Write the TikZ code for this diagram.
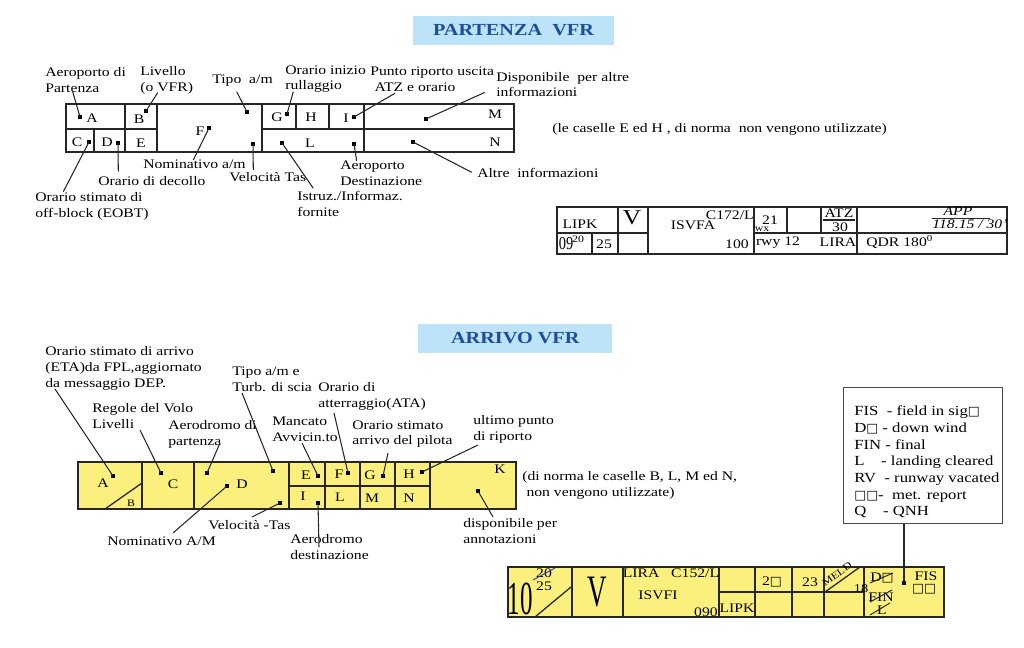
\documentclass[tikz,border=0pt]{standalone}
\usepackage{fontspec}
\usepackage{graphicx}
\setmainfont{Liberation Serif}[FakeStretch=1.2]
\newfontfamily\dejavu{DejaVu Sans}
\usetikzlibrary{positioning, calc}
\definecolor{stripyellow}{RGB}{251,240,125}
\definecolor{titleblue}{RGB}{188,227,248}
\definecolor{titleink}{RGB}{28,78,156}
\definecolor{strikeblue}{RGB}{60,70,170}
\newcommand{\lblfont}{\fontsize{9.3}{11.2}\selectfont}
\newcommand{\tinyfont}{\fontsize{7}{7}\selectfont}
\newcommand{\ttlfont}{\fontsize{12}{14}\selectfont\bfseries}
\newcommand{\sq}{{\dejavu\fontsize{9}{9}\selectfont □}}
\tikzset{
  titlebox/.style={fill=titleblue, text=titleink, font=\ttlfont, inner sep=0pt},
  % grid and strip lines
  gridline/.style={draw=black!85, line width=0.9pt},
  yellowcell/.style={gridline, fill=stripyellow},
  cellchar/.style={inner sep=0pt, font=\lblfont, text=black},
  % labels and leaders
  lbl/.style={inner sep=0pt, align=left, anchor=west, font=\lblfont, text=black},
  dotmark/.style={fill=black, inner sep=0pt, minimum size=1mm},
  leader/.style={draw=black!85, line width=0.75pt},
  strike/.style={draw=black!85, line width=0.7pt},
  legendbox/.style={draw=black!70, fill=white, line width=0.8pt, inner sep=0pt},
}

\begin{document}
\begin{tikzpicture}[x=0.25mm, y=-0.25mm]
  \useasboundingbox (0,0) rectangle (1024,648);

  % --- titles ---
  \node[titlebox, minimum width=50.2mm, minimum height=7.3mm] (titlePart) at (513.5,30.5) {PARTENZA~~VFR};
  \node[titlebox, minimum width=48.5mm, minimum height=7.1mm] (titleArr) at (515.3,338.5) {ARRIVO VFR};

  % --- partenza: grid ---
  \draw[gridline] (66,104) rectangle (514,152);
  \draw[gridline] (66,129) -- (157,129);
  \draw[gridline] (262,129) -- (514,129);
  \draw[gridline] (125,104) -- (125,152);
  \draw[gridline] (157,104) -- (157,152);
  \draw[gridline] (94,129) -- (94,152);
  \draw[gridline] (262,104) -- (262,152);
  \draw[gridline] (296,104) -- (296,129);
  \draw[gridline] (329,104) -- (329,129);
  \draw[gridline] (364,104) -- (364,152);

  \node[cellchar] (pA) at (92,118) {A};
  \node[cellchar] (pB) at (139,119) {B};
  \node[cellchar] (pC) at (77,142) {C};
  \node[cellchar] (pD) at (107,142) {D};
  \node[cellchar] (pE) at (141,143) {E};
  \node[cellchar] (pF) at (200,131) {F};
  \node[cellchar] (pG) at (277,117) {G};
  \node[cellchar] (pH) at (311,117) {H};
  \node[cellchar] (pI) at (346,118) {I};
  \node[cellchar] (pL) at (310,143) {L};
  \node[cellchar] (pM) at (495,114) {M};
  \node[cellchar] (pN) at (495,142) {N};

  \node[dotmark] (dA) at (80,117) {};
  \node[dotmark] (dB) at (146,111) {};
  \node[dotmark] (dC) at (89,142) {};
  \node[dotmark] (dD) at (118,143) {};
  \node[dotmark] (dF) at (209,128) {};
  \node[dotmark] (dTipo) at (247,112) {};
  \node[dotmark] (dTas) at (253,144) {};
  \node[dotmark] (dG) at (287,114) {};
  \node[dotmark] (dL) at (282,143) {};
  \node[dotmark] (dI) at (354,117) {};
  \node[dotmark] (dDest) at (354,144) {};
  \node[dotmark] (dM) at (426,119) {};
  \node[dotmark] (dN) at (413,142) {};

  % --- partenza: labels ---
  \node[lbl] (lAerop) at (45,80) {Aeroporto di\\Partenza};
  \node[lbl] (lLiv) at (140,80) {Livello\\(o VFR)};
  \node[lbl] (lTipo) at (212,81) {Tipo~~a/m};
  \node[lbl] (lRull) at (285,79) {Orario inizio\\rullaggio};
  \node[lbl] (lPunto) at (370,79) {Punto riporto uscita\\\hspace*{3pt}ATZ e orario};
  \node[lbl] (lDisp) at (496,84.5) {Disponibile~~per altre\\informazioni};
  \node[lbl] (lNote) at (552,129) {(le caselle E ed H , di norma~~non vengono utilizzate)};
  \node[lbl] (lAltre) at (477,173.3) {Altre~~informazioni};
  \node[lbl] (lDest) at (340,173) {Aeroporto\\Destinazione};
  \node[lbl] (lIstr) at (297,204) {Istruz./Informaz.\\fornite};
  \node[lbl] (lTas) at (229,177) {Velocità Tas};
  \node[lbl] (lNomin) at (143,164) {Nominativo a/m};
  \node[lbl] (lDec) at (98,181) {Orario di decollo};
  \node[lbl] (lEobt) at (35,206.3) {Orario stimato di\\off-block (EOBT)};

  % --- partenza: leaders ---
  \coordinate (eA) at (72.7,91.7);
  \coordinate (eB) at (157.7,92.7);
  \coordinate (eTipo) at (236.7,91.7);
  \coordinate (eG) at (293.3,91.7);
  \coordinate (eI) at (395,93.3);
  \coordinate (eM) at (485,92.3);
  \coordinate (eN) at (471.7,172.3);
  \coordinate (eDest) at (356.7,161);
  \coordinate (eL) at (313.3,188.3);
  \coordinate (eTas) at (253.3,170);
  \coordinate (eF) at (193.3,160);
  \coordinate (eD) at (118.3,171.7);
  \coordinate (eC) at (63.3,191.7);
  \foreach \d/\e in {dA/eA, dB/eB, dTipo/eTipo, dG/eG, dI/eI, dM/eM, dN/eN,
                     dDest/eDest, dL/eL, dTas/eTas, dF/eF, dD/eD, dC/eC}
    \draw[leader] (\d.center) -- (\e);

  % --- partenza: example strip ---
  \draw[gridline] (557,207) rectangle (1007,254);
  \draw[gridline] (557,233) -- (648,233);
  \draw[gridline] (754,233) -- (1007,233);
  \draw[gridline] (618,207) -- (618,254);
  \draw[gridline] (648,207) -- (648,254);
  \draw[gridline] (754,207) -- (754,254);
  \draw[gridline] (787,207) -- (787,233);
  \draw[gridline] (821,207) -- (821,233);
  \draw[gridline] (857,207) -- (857,254);
  \draw[gridline] (592,233) -- (592,254);

  \node[cellchar] (sLipk) at (580,224) {LIPK};
  \node[cellchar, font=\fontsize{15}{15}\selectfont] (sV) at (632,218) {V};
  \node[cellchar, anchor=east] (sType) at (754,215) {C172/L};
  \node[cellchar] (sCall) at (693,225) {ISVFA};
  \node[cellchar, anchor=east] (sSpeed) at (749,244) {100};
  \node[cellchar] (sLev) at (770,220) {21};
  \node[cellchar] (sAtz) at (839,213) {ATZ};
  \draw[leader] (823,220) -- (855,220);
  \node[cellchar] (sAtzT) at (840,227) {30};
  \node[cellchar, font=\lblfont\itshape] (sApp) at (958,211) {APP};
  \draw[leader] (932,218.5) -- (990,218.5);
  \node[cellchar, font=\lblfont\itshape] (sFreq) at (970,224.5) {118.15 / 30'};
  \node[cellchar, anchor=west] (sQdr) at (866,242) {QDR 180\textsuperscript{0}};
  \node[cellchar, font=\tinyfont] (sWx) at (762,229) {wx};
  \node[cellchar] (sRwy) at (778,242.5) {rwy 12};
  \node[cellchar] (sLira) at (838,242) {LIRA};
  \node[cellchar, font=\fontsize{10}{10}\selectfont] (sEobt) at (566,244) {\scalebox{0.85}[1.3]{09}};
  \node[cellchar, font=\tinyfont] (sEobtM) at (578,239) {20};
  \node[cellchar] (sDep) at (604,244) {25};

  % --- arrivo: grid ---
  \draw[yellowcell] (78,462) rectangle (516,509);
  \draw[gridline] (289,486) -- (430,486);
  \foreach \x in {142, 194, 289, 325, 360, 395, 430}
    \draw[gridline] (\x,462) -- (\x,509);
  \draw[gridline] (105,509) -- (142,483);

  \node[cellchar] (aA) at (103,483) {A};
  \node[cellchar, font=\tinyfont] (aB) at (131,503) {B};
  \node[cellchar] (aC) at (173,484) {C};
  \node[cellchar] (aD) at (242,484) {D};
  \node[cellchar] (aE) at (306,475) {E};
  \node[cellchar] (aF) at (339,474) {F};
  \node[cellchar] (aG) at (370,475) {G};
  \node[cellchar] (aH) at (409,474) {H};
  \node[cellchar] (aI) at (303,496) {I};
  \node[cellchar] (aL) at (340,497) {L};
  \node[cellchar] (aM) at (372,498) {M};
  \node[cellchar] (aN) at (409,498) {N};
  \node[cellchar] (aK) at (500,469) {K};

  \node[dotmark] (dAa) at (113,476) {};
  \node[dotmark] (dCa) at (161,473) {};
  \node[dotmark] (dPart) at (207,473) {};
  \node[dotmark] (dTipoa) at (273,471) {};
  \node[dotmark] (dDa) at (227,486) {};
  \node[dotmark] (dTasa) at (280,503) {};
  \node[dotmark] (dEa) at (318,476) {};
  \node[dotmark] (dFa) at (348,473) {};
  \node[dotmark] (dGa) at (383,476) {};
  \node[dotmark] (dHa) at (422,472) {};
  \node[dotmark] (dIa) at (318,503) {};
  \node[dotmark] (dKa) at (478,491) {};

  % --- arrivo: labels ---
  \node[lbl] (lEta) at (45,368.3) {Orario stimato di arrivo\\(ETA)da FPL,aggiornato\\da messaggio DEP.};
  \node[lbl] (lRegole) at (92,416) {Regole del Volo\\Livelli};
  \node[lbl] (lPart) at (168,434.5) {Aerodromo di\\partenza};
  \node[lbl] (lTipoa) at (232,379) {Tipo a/m e\\Turb. di scia};
  \node[lbl] (lManc) at (272,429) {Mancato\\Avvicin.to};
  \node[lbl] (lAta) at (318,396.3) {Orario di\\atterraggio(ATA)};
  \node[lbl] (lPil) at (352,434) {Orario stimato\\arrivo del pilota};
  \node[lbl] (lUlt) at (473,429) {ultimo punto\\di riporto};
  \node[lbl] (lNorma) at (522,485) {(di norma le caselle B, L, M ed N,\\\hspace*{3pt}non vengono utilizzate)};
  \node[lbl] (lAnnot) at (463,531) {disponibile per\\annotazioni};
  \node[lbl] (lTasa) at (208,525) {Velocità -Tas};
  \node[lbl] (lNomina) at (107,541) {Nominativo A/M};
  \node[lbl] (lDesta) at (290,546.7) {Aerodromo\\destinazione};

  % --- arrivo: leaders ---
  \coordinate (eAa) at (55,389);
  \coordinate (eCa) at (140,430);
  \coordinate (ePart) at (220,443);
  \coordinate (eTipoa) at (242,393);
  \coordinate (eEa) at (302,443);
  \coordinate (eFa) at (334,413);
  \coordinate (eGa) at (388,453);
  \coordinate (eHa) at (478,445);
  \coordinate (eKa) at (493,517);
  \coordinate (eTasa) at (252,517);
  \coordinate (eDa) at (173,533);
  \coordinate (eIa) at (319,547);
  \foreach \d/\e in {dAa/eAa, dCa/eCa, dPart/ePart, dTipoa/eTipoa, dEa/eEa, dFa/eFa,
                     dGa/eGa, dHa/eHa, dKa/eKa, dTasa/eTasa, dDa/eDa, dIa/eIa}
    \draw[leader] (\d.center) -- (\e);

  % --- arrivo: legend ---
  \node[legendbox, minimum width=39.6mm, minimum height=34.2mm] (legend) at (923,455.5) {};
  \node[lbl, font=\fontsize{9.9}{11.9}\selectfont] (legendTxt) at (854,462)
    {FIS~~- field in sig\sq\\
     D\sq{} - down wind\\
     FIN - final\\
     L~~~~- landing cleared\\
     RV~~- runway vacated\\
     \sq\sq- ~met. report\\
     Q~~~~- QNH};

  % --- arrivo: example strip ---
  \draw[yellowcell] (508,567) rectangle (944,617);
  \foreach \x in {572, 623, 719, 755, 792, 824, 864}
    \draw[gridline] (\x,567) -- (\x,617);
  \draw[gridline] (719,592) -- (864,592);
  \draw[gridline] (535,617) -- (571,587);
  \draw[gridline] (825,592) -- (860,567);

  \node[cellchar] (tEta) at (520,599) {\scalebox{1.1}[2.5]{\fontsize{13.5}{14}\selectfont 10}};
  \node[cellchar] (tEtaOld) at (544,573) {20};
  \draw[strikeblue, line width=0.7pt] (533,580) -- (555,568);
  \node[cellchar] (tEtaNew) at (544,586) {25};
  \node[cellchar] (tV) at (597,592) {\scalebox{1}[2]{\fontsize{16}{16}\selectfont V}};
  \node[cellchar] (tDest) at (671,573) {LIRA~~~C152/L};
  \node[cellchar] (tCall) at (658,595) {ISVFI};
  \node[cellchar, anchor=east] (tSpeed) at (718,612) {090};
  \node[cellchar] (tDep) at (737,608) {LIPK};
  \node[cellchar] (tLev) at (772,582) {2\sq};
  \node[cellchar] (tAta) at (810,582) {23};
  \node[cellchar, rotate=35, font=\fontsize{7}{7}\selectfont] (tMeld) at (837,574) {MELD};
  \node[cellchar, font=\fontsize{8.5}{9}\selectfont] (tMeldT) at (861,589) {18};
  \node[cellchar] (tDw) at (882,578) {D\sq};
  \draw[strike] (870,583) -- (893,573);
  \node[cellchar] (tFin) at (881,597) {FIN};
  \draw[strike] (870,602) -- (892,590);
  \node[cellchar] (tLand) at (882,610) {L};
  \draw[strike] (870,615) -- (890,603);
  \node[dotmark] (dFis) at (904,583) {};
  \node[cellchar] (tFis) at (926,576) {FIS};
  \node[cellchar] (tMet) at (924,589) {\sq\sq};

  \draw[leader] (legend.south -| dFis) -- (dFis.center);
\end{tikzpicture}
\end{document}
